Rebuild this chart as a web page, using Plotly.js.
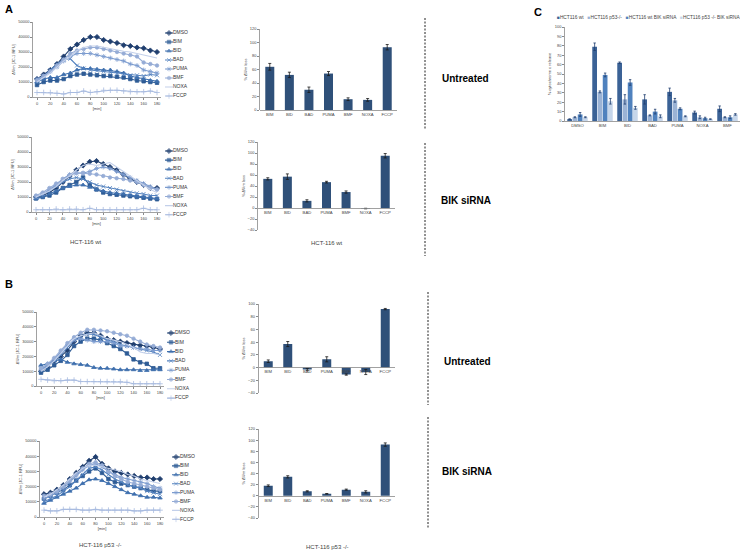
<!DOCTYPE html>
<html><head><meta charset="utf-8">
<script src="https://cdn.plot.ly/plotly-3.0.1.min.js"></script>
<style>html,body{margin:0;padding:0;background:#fff}#chart{width:740px;height:553px}</style>
</head><body><div id="chart"></div>
<script>
// ---------- DATA ----------
const minutes = [0,10,20,30,40,50,60,70,80,90,100,110,120,130,140,150,160,170,180];
const seriesNames = ['DMSO','BIM','BID','BAD','PUMA','BMF','NOXA','FCCP'];

// HCT-116 wt, untreated
const wtU_DMSO = [12000,15000,18000,22000,27000,32000,35000,38000,40000,40000,38000,37000,36000,34500,34000,33000,32500,31000,30000];
const wtU_BIM  = [8000,10000,11000,11000,12000,14000,15000,15500,15000,14500,14000,14000,13500,13000,12000,11000,10500,10000,9500];
const wtU_BID  = [10000,12000,13000,13000,15000,16000,18000,19000,19000,18500,18000,18000,17000,16000,14000,13000,12000,11000,10500];
const wtU_BAD  = [11000,14000,18000,22000,25000,25500,21000,19000,18000,17500,17000,16500,15500,15000,14500,14500,14000,15000,14500];
const wtU_PUMA = [12000,14000,17000,20000,24000,27000,29000,29000,29000,28000,27000,26000,25000,24000,22000,21000,18000,17000,16000];
const wtU_BMF  = [11000,14000,17000,21000,25000,29000,31000,32000,33000,33000,32000,31000,30000,29000,28000,27000,23000,22000,21000];
const wtU_NOXA = [10000,13000,16000,20000,24000,27000,31000,33000,34000,34000,33000,32000,31000,30500,30000,29000,28000,27000,26000];
const wtU_FCCP = [3000,3000,3000,2500,2000,3000,3000,4000,3000,3500,4500,4500,4500,4000,3500,3500,3500,4000,3000];

// HCT-116 wt, BIK siRNA
const wtK_DMSO = [10000,11000,13000,16000,20000,24000,28000,31000,33500,34000,32000,30000,28000,25000,22000,20000,18000,16000,16000];
const wtK_BIM  = [9000,10000,11000,13000,16000,18000,20000,23000,18000,15000,13000,12000,11500,11000,10500,10000,9500,9000,8500];
const wtK_BID  = [9000,10000,12000,14000,16000,17000,18000,18000,16500,15000,14000,13000,12500,12000,11000,10500,10000,9500,9000];
const wtK_BAD  = [10000,12000,14000,17000,20000,22000,23000,22000,20000,18000,17000,16000,15000,14000,13000,12500,12000,11000,11000];
const wtK_PUMA = [10000,12000,15000,18000,22000,25000,26000,26000,27000,29000,30000,29000,27000,25000,23000,21000,19000,17000,15000];
const wtK_BMF  = [11000,13000,16000,19000,22000,24500,26000,26000,25500,25000,24000,23000,22500,22000,21000,20000,18000,16000,15000];
const wtK_NOXA = [10000,12000,14000,17000,21000,24000,28000,31000,32000,31000,32000,33000,30000,27000,24000,21000,18000,15000,13000];
const wtK_FCCP = [1500,1500,1500,2000,1500,2000,2000,1500,2500,1500,1500,1500,1500,1500,1500,1500,2500,1500,1500];

// HCT-116 p53 -/-, untreated
const p53U_DMSO = [10000,13000,17000,20000,24000,30000,34000,36000,36000,34000,32000,31000,30000,29000,28000,27500,27000,26000,25000];
const p53U_BIM  = [9000,11000,14000,17000,21000,27000,30000,32000,32000,31000,29000,27000,25000,22000,18000,16000,15000,12000,12000];
const p53U_BID  = [14000,15000,17000,18000,16000,15000,14500,14000,12500,12000,12000,11500,11000,11000,11000,10500,10500,11000,11000];
const p53U_BAD  = [11000,14000,17000,21000,26000,31000,34000,35000,35000,33000,31000,30000,28000,27000,26000,25000,24000,23000,21000];
const p53U_PUMA = [11000,14000,18000,23000,28000,31000,32000,31000,30000,30000,30000,29000,27000,27000,26000,25000,25000,24000,24000];
const p53U_BMF  = [12000,15000,19000,24000,29000,33000,36000,38000,38000,37500,37000,36000,35000,34000,32000,30000,28000,27000,26000];
const p53U_NOXA = [10000,13000,17000,22000,27000,32000,34000,35000,36000,34000,32000,31000,30000,28000,26000,23000,22000,22000,21000];
const p53U_FCCP = [4500,4000,3500,3500,4000,4000,3000,3000,3000,3000,3000,3000,3000,2500,1500,1500,1500,1500,1500];

// HCT-116 p53 -/-, BIK siRNA
const p53K_DMSO = [15000,16000,18000,21000,25000,29000,33000,37000,39500,35000,32000,30000,29000,28000,27000,26000,26000,25000,25000];
const p53K_BIM  = [12000,14000,16000,18000,21000,24000,27000,30000,32000,29000,25000,23000,22000,21000,20000,19000,18000,17000,17000];
const p53K_BID  = [9000,11000,13000,15000,17000,19000,22000,24500,25000,24000,22000,20000,18000,16000,15000,14000,13000,13000,12500];
const p53K_BAD  = [10000,12000,14000,17000,20000,24000,28000,32000,33000,31000,28000,25000,23000,21000,20000,19000,17000,16000,15000];
const p53K_PUMA = [12000,14000,16000,19000,23000,27000,31000,34000,35000,33000,30000,28000,26000,25000,24000,23000,22000,20000,19000];
const p53K_BMF  = [14000,15000,17000,20000,24000,28000,32000,35000,36000,34000,30000,27000,25000,23000,22000,21000,20000,19000,18000];
const p53K_NOXA = [13000,15000,18000,21000,25000,29000,32000,34000,34000,33000,32000,31000,30000,28000,27000,25000,24000,23000,22000];
const p53K_FCCP = [4500,4000,4000,5000,5000,5000,4500,4500,5000,4500,4500,4500,4500,4500,4000,4000,4500,4500,4500];

// % ΔΨm loss bars
const barCats = ['BIM','BID','BAD','PUMA','BMF','NOXA','FCCP'];
const wtU_loss = [64,52,30,54,16,15,93];
const wtU_err  = [5,4,4,3,2,2,4];
const wtK_loss = [53,57,13,47,29,-1,95];
const wtK_err  = [2,5,2,1.5,2,0.5,4];
const p53U_loss = [10,37,-3,13,-11,-7,92];
const p53U_err  = [2,4,1.5,4,1,4,1];
const p53K_loss = [18,34,8,3.5,11,7,92];
const p53K_err  = [1.5,2,1,0.5,1,2,3];

// Panel C: % cytochrome c release
const cytoCats = ['DMSO','BIM','BID','BAD','PUMA','NOXA','BMF'];
const cytoNames = ['HCT116 wt','HCT116 p53-/-','HCT116 wt BIK siRNA','HCT116 p53 -/- BIK siRNA'];
const cyto_wt     = [2,79,62,23,31,9,13];
const cyto_wt_err = [0.3,4,0.8,5,4,1.5,3];
const cyto_p53     = [4,31,23,6,22,4,4];
const cyto_p53_err = [0.5,1,5,0.5,2,1.5,0.5];
const cyto_wtK     = [7,49,41,10,13,3,4];
const cyto_wtK_err = [2,2,3,2.5,1,1,1.5];
const cyto_p53K     = [4,21,14,5,5,2,7];
const cyto_p53K_err = [0.5,3,1.5,1.5,0.5,0.3,0.8];

// ---------- STYLE / LAYOUT ----------
const W = 740, H = 553;
const FONT = 'Liberation Sans, Arial, sans-serif';
const px2x = p => p / W;
const px2y = p => 1 - p / H;
const lineStyles = [
  {color:'#1f3e6e', symbol:'diamond', size:4},
  {color:'#2e5c96', symbol:'square', size:3.5},
  {color:'#3e6fad', symbol:'triangle-up', size:4},
  {color:'#5382bf', symbol:'x-thin-open', size:4},
  {color:'#7c9ccf', symbol:'asterisk-open', size:4},
  {color:'#95acd6', symbol:'circle', size:3.5},
  {color:'#c3d0ea', symbol:null, size:0},
  {color:'#a8bbe0', symbol:'cross-thin-open', size:4}
];
const barColor = '#2f5079';
const cytoColors = ['#3b6296','#9bb3d5','#5082be','#c6d6ea'];
const axisColor = '#8a8a8a';
const tickFont = {size:4, color:'#444', family:FONT};

const traces = [];
const layout = {
  width: W, height: H, margin:{l:0,r:0,t:0,b:0},
  paper_bgcolor:'#fff', plot_bgcolor:'rgba(0,0,0,0)',
  showlegend:false, font:{family:FONT, color:'#222'},
  barmode:'group', bargap:0.16, bargroupgap:0.1,
  annotations:[], shapes:[]
};

function lineChart(n, seriesData, box, legendBox) {
  const xa = 'xaxis' + (n===1?'':n), ya = 'yaxis' + (n===1?'':n);
  const xr = 'x' + (n===1?'':n), yr = 'y' + (n===1?'':n);
  const scale = (box.x180 - box.x0) / 180;
  const rmin = -(box.x0 - box.axisLeft) / scale;
  const rmax = 180 + (box.right - box.x180) / scale;
  layout[xa] = {domain:[px2x(box.axisLeft), px2x(box.right)], range:[rmin, rmax], anchor:yr,
    tickvals:[0,20,40,60,80,100,120,140,160,180], ticks:'outside', ticklen:2, tickcolor:axisColor,
    showline:true, linecolor:axisColor, linewidth:0.8, showgrid:false, zeroline:false,
    tickfont:tickFont, title:{text:'[min]', font:{size:4, color:'#444'}, standoff:1}};
  layout[ya] = {domain:[px2y(box.bottom), px2y(box.top)], range:[0,50000], anchor:xr,
    dtick:10000, tickformat:'d', ticks:'outside', ticklen:2, tickcolor:axisColor,
    showline:true, linecolor:axisColor, linewidth:0.8, showgrid:false, zeroline:false,
    tickfont:tickFont, title:{text:'ΔΨm [JC-1 RFU]', font:{size:4, color:'#444'}, standoff:2}};
  seriesData.forEach((vals, i) => {
    const s = lineStyles[i];
    const tr = {type:'scatter', mode: s.symbol ? 'lines+markers' : 'lines', name:seriesNames[i],
      x:minutes, y:vals, xaxis:xr, yaxis:yr, line:{color:s.color, width:1.1}};
    if (s.symbol) tr.marker = {symbol:s.symbol, size:s.size, color:s.color, line:{color:s.color, width:0.8}};
    traces.push(tr);
  });
  const ln = n + 20;
  const lxa = 'xaxis' + ln, lya = 'yaxis' + ln, lxr = 'x' + ln, lyr = 'y' + ln;
  const sp = legendBox.spacing;
  layout[lxa] = {domain:[px2x(legendBox.x), px2x(legendBox.x + 40)], range:[0,40], visible:false, fixedrange:true, anchor:lyr};
  layout[lya] = {domain:[px2y(legendBox.first + 7.5*sp), px2y(legendBox.first - 0.5*sp)], range:[7.5,-0.5], visible:false, fixedrange:true, anchor:lxr};
  seriesNames.forEach((nm, i) => {
    const s = lineStyles[i];
    traces.push({type:'scatter', mode:'lines+markers+text', x:[0,4,8], y:[i,i,i], xaxis:lxr, yaxis:lyr,
      text:['','',nm], textposition:'middle right', textfont:{size:5, color:'#333', family:FONT},
      line:{color:s.color, width:1.1}, hoverinfo:'skip', cliponaxis:false,
      marker:{symbol:s.symbol || 'circle', size:s.symbol ? [0,s.size,0] : [0,0,0], color:s.color, line:{color:s.color, width:0.8}}});
  });
}

function barChart(n, vals, errs, box, yrange, dtick) {
  const xa = 'xaxis' + n, ya = 'yaxis' + n, xr = 'x' + n, yr = 'y' + n;
  const zeroPx = box.bottom - (0 - yrange[0]) / (yrange[1] - yrange[0]) * (box.bottom - box.top);
  layout[xa] = {domain:[px2x(box.left), px2x(box.right)], range:[-0.5, 6.5], anchor:'free', position:px2y(zeroPx),
    type:'category', showline:true, linecolor:axisColor, linewidth:0.8, ticks:'', showgrid:false, zeroline:false,
    tickfont:{size:4.2, color:'#444', family:FONT}};
  layout[ya] = {domain:[px2y(box.bottom), px2y(box.top)], range:yrange, anchor:xr, dtick:dtick,
    ticks:'outside', ticklen:2, tickcolor:axisColor, showline:true, linecolor:axisColor, linewidth:0.8,
    showgrid:false, zeroline:false, tickfont:tickFont,
    title:{text:'% ΔΨm loss', font:{size:4, color:'#444'}, standoff:2}};
  traces.push({type:'bar', x:barCats, y:vals, xaxis:xr, yaxis:yr, width:0.46,
    marker:{color:barColor, line:{width:0}},
    error_y:{type:'data', array:errs, visible:true, color:'#1a1a1a', thickness:0.8, width:1.5}});
}

lineChart(1, [wtU_DMSO,wtU_BIM,wtU_BID,wtU_BAD,wtU_PUMA,wtU_BMF,wtU_NOXA,wtU_FCCP],
  {axisLeft:33, x0:37, x180:157, right:161, top:22, bottom:97}, {x:165, first:33, spacing:9});
lineChart(2, [wtK_DMSO,wtK_BIM,wtK_BID,wtK_BAD,wtK_PUMA,wtK_BMF,wtK_NOXA,wtK_FCCP],
  {axisLeft:32, x0:36, x180:157, right:161, top:137, bottom:212}, {x:165, first:151, spacing:9.1});
lineChart(3, [p53U_DMSO,p53U_BIM,p53U_BID,p53U_BAD,p53U_PUMA,p53U_BMF,p53U_NOXA,p53U_FCCP],
  {axisLeft:37, x0:41, x180:160, right:164, top:312, bottom:386}, {x:167, first:333, spacing:9.3});
lineChart(4, [p53K_DMSO,p53K_BIM,p53K_BID,p53K_BAD,p53K_PUMA,p53K_BMF,p53K_NOXA,p53K_FCCP],
  {axisLeft:40, x0:44, x180:160, right:164, top:441, bottom:517}, {x:172, first:457, spacing:8.9});

barChart(5, wtU_loss, wtU_err, {left:260, right:397, top:29, bottom:110}, [0,120], 20);
barChart(6, wtK_loss, wtK_err, {left:258, right:395, top:142, bottom:230}, [-40,120], 20);
barChart(7, p53U_loss, p53U_err, {left:258.5, right:395, top:304, bottom:393}, [-40,100], 20);
barChart(8, p53K_loss, p53K_err, {left:258.5, right:395, top:429, bottom:518}, [-40,120], 20);

// Panel C
layout.xaxis9 = {domain:[px2x(565), 1], range:[-0.5,6.5], anchor:'y9', type:'category',
  showline:true, linecolor:axisColor, linewidth:0.8, ticks:'', showgrid:false, zeroline:false,
  tickfont:{size:4.2, color:'#444', family:FONT}};
layout.yaxis9 = {domain:[px2y(121), px2y(27)], range:[0,100], anchor:'x9', dtick:10,
  ticks:'outside', ticklen:2, tickcolor:axisColor, showline:true, linecolor:axisColor, linewidth:0.8,
  showgrid:false, zeroline:false, tickfont:tickFont,
  title:{text:'% cytochrome c release', font:{size:4, color:'#444'}, standoff:3}};
[[cyto_wt,cyto_wt_err],[cyto_p53,cyto_p53_err],[cyto_wtK,cyto_wtK_err],[cyto_p53K,cyto_p53K_err]].forEach((d,i)=>{
  traces.push({type:'bar', name:cytoNames[i], x:cytoCats, y:d[0], xaxis:'x9', yaxis:'y9',
    marker:{color:cytoColors[i], line:{width:0}},
    error_y:{type:'data', array:d[1], visible:true, color:'#1f3e6e', thickness:0.8, width:1.2}});
});
layout.annotations.push({xref:'paper', yref:'paper', x:px2x(555), y:px2y(17), xanchor:'left', yanchor:'middle',
  showarrow:false, font:{size:4.8, color:'#444', family:FONT},
  text: cytoNames.map((nm,i)=>'<span style="color:'+cytoColors[i]+'">■</span>'+nm).join('   ')});

function txt(s, x, y, size, bold, anchor, color) {
  layout.annotations.push({xref:'paper', yref:'paper', x:px2x(x), y:px2y(y), xanchor:anchor||'left', yanchor:'middle',
    showarrow:false, text: bold ? '<b>'+s+'</b>' : s, font:{size:size, color:color||'#000', family:FONT}});
}
txt('A', 3, 9, 11, true);
txt('B', 3, 284, 11, true);
txt('C', 532, 12, 11, true);
txt('Untreated', 440, 78, 10, true);
txt('BIK siRNA', 439, 200, 10, true);
txt('Untreated', 442, 361, 10, true);
txt('BIK siRNA', 440, 471, 10, true);
txt('HCT-116 wt', 86, 242, 6, false, 'center', '#444');
txt('HCT-116 wt', 327, 243, 6, false, 'center', '#444');
txt('HCT-116 p53 -/-', 100, 545, 6, false, 'center', '#444');
txt('HCT-116 p53 -/-', 327, 547, 6, false, 'center', '#444');

[[425,18,130],[425,143,256],[428,292,405],[428,417,529]].forEach(s=>{
  layout.shapes.push({type:'line', xref:'paper', yref:'paper', x0:px2x(s[0]), x1:px2x(s[0]), y0:px2y(s[1]), y1:px2y(s[2]),
    line:{color:'#222', width:1, dash:'2px,1.5px'}});
});

Plotly.newPlot('chart', traces, layout, {staticPlot:true, displayModeBar:false});
</script></body></html>
